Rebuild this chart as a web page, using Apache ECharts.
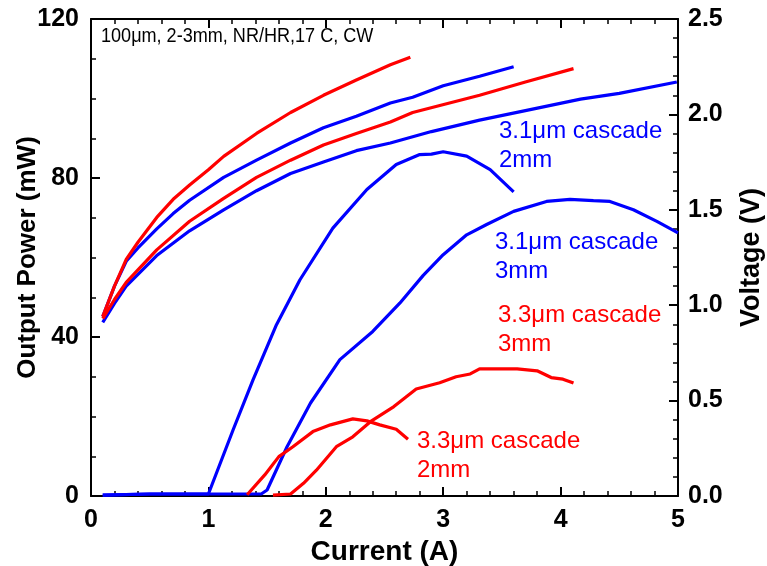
<!DOCTYPE html>
<html>
<head>
<meta charset="utf-8">
<script src="https://cdn.jsdelivr.net/npm/echarts@6/dist/echarts.min.js"></script>
<style>
  html, body { margin: 0; padding: 0; background: #fff; }
  #chart { width: 767px; height: 566px; }
</style>
</head>
<body>
<div id="chart"></div>
<script>
// output power (mW) vs current (A)
var iBlue2 = [0.1, 0.5, 1.0, 1.01, 1.21, 1.38, 1.58, 1.78, 2.06, 2.35, 2.6, 2.8, 2.9, 3.0, 3.2, 3.4, 3.6];
var pBlue2 = [0.2, 0.5, 0.5, 1.0, 16.6, 29.2, 43.1, 54.4, 67.4, 77.1, 83.4, 85.9, 86.0, 86.6, 85.5, 82.1, 76.5];

var iBlue3 = [0.1, 0.5, 1.45, 1.5, 1.67, 1.87, 2.12, 2.4, 2.63, 2.83, 3.0, 3.2, 3.37, 3.6, 3.88, 4.08, 4.28, 4.42, 4.62, 4.82, 5.0];
var pBlue3 = [0.2, 0.5, 0.5, 1.5, 12.4, 23.4, 34.3, 41.4, 48.5, 55.5, 60.7, 65.7, 68.3, 71.6, 74.1, 74.6, 74.3, 74.1, 72.0, 69.1, 66.2];

var iRed2 = [1.33, 1.48, 1.6, 1.72, 1.89, 2.04, 2.23, 2.35, 2.46, 2.6, 2.7];
var pRed2 = [0.3, 5.3, 9.9, 12.4, 16.2, 17.9, 19.4, 18.9, 17.9, 16.8, 14.3];

var iRed3 = [1.55, 1.7, 1.81, 1.92, 2.09, 2.23, 2.38, 2.58, 2.77, 2.97, 3.11, 3.23, 3.31, 3.63, 3.8, 3.92, 4.02, 4.11];
var pRed3 = [0.2, 0.5, 3.2, 6.5, 12.4, 14.9, 18.7, 22.5, 26.9, 28.5, 30.0, 30.7, 32.0, 32.0, 31.5, 29.8, 29.4, 28.4];

// voltage (V) vs current (A)
var iVBlue2 = [0.1, 0.2, 0.3, 0.4, 0.56, 0.7, 0.84, 1.13, 1.41, 1.7, 1.98, 2.26, 2.55, 2.74, 3.0, 3.31, 3.6];
var vBlue2 = [0.94, 1.10, 1.23, 1.30, 1.40, 1.48, 1.55, 1.67, 1.76, 1.85, 1.93, 1.99, 2.06, 2.09, 2.15, 2.20, 2.25];

var iVBlue3 = [0.1, 0.2, 0.3, 0.56, 0.84, 1.13, 1.41, 1.7, 1.98, 2.26, 2.55, 2.9, 3.31, 3.7, 4.17, 4.5, 4.99];
var vBlue3 = [0.91, 1.01, 1.10, 1.26, 1.39, 1.50, 1.60, 1.69, 1.75, 1.81, 1.85, 1.91, 1.97, 2.02, 2.08, 2.11, 2.17];

var iVRed2 = [0.1, 0.2, 0.3, 0.4, 0.56, 0.7, 0.84, 1.0, 1.13, 1.41, 1.7, 1.98, 2.26, 2.55, 2.72];
var vRed2 = [0.94, 1.10, 1.24, 1.33, 1.46, 1.555, 1.63, 1.71, 1.78, 1.90, 2.01, 2.10, 2.18, 2.26, 2.30];

var iVRed3 = [0.1, 0.2, 0.3, 0.56, 0.84, 1.13, 1.41, 1.7, 1.98, 2.26, 2.55, 2.74, 3.31, 3.7, 4.11];
var vRed3 = [0.93, 1.03, 1.12, 1.29, 1.44, 1.56, 1.67, 1.76, 1.84, 1.90, 1.96, 2.01, 2.10, 2.17, 2.24];

var xTicks = [0, 1, 2, 3, 4, 5];

var BLUE = "#0000ff";
var RED = "#ff0000";
var FONT = "'Liberation Sans', Arial, sans-serif";

function zip(xs, ys) {
  return xs.map(function (x, i) { return [x, ys[i]]; });
}

function line(name, xs, ys, color, yIdx) {
  return {
    name: name,
    type: "line",
    yAxisIndex: yIdx,
    data: zip(xs, ys),
    showSymbol: false,
    symbol: "none",
    lineStyle: { color: color, width: 3.2 },
    z: 3
  };
}

var chart = echarts.init(document.getElementById("chart"));

var axisBase = {
  axisLine: { show: true, onZero: false, lineStyle: { color: "#000", width: 2 } },
  axisTick: { show: true, inside: true, length: 9, lineStyle: { color: "#000", width: 2 } },
  minorTick: { show: true, length: 5, lineStyle: { color: "#000", width: 1.5 } },
  splitLine: { show: false }
};

var tickFont = { color: "#000", fontFamily: FONT, fontWeight: "bold", fontSize: 25 };

var option = {
  animation: false,
  backgroundColor: "#fff",
  grid: { left: 91, right: 89, top: 19, bottom: 70, containLabel: false, outerBoundsMode: "none" },
  xAxis: [
    Object.assign({}, axisBase, {
      type: "value",
      min: 0,
      max: 5,
      interval: 1,
      position: "bottom",
      minorTick: Object.assign({}, axisBase.minorTick, { splitNumber: 5 }),
      axisLabel: Object.assign({}, tickFont, {
        margin: 12,
        formatter: function (v) { return xTicks.indexOf(v) >= 0 ? String(v) : ""; }
      }),
      name: "Current (A)",
      nameLocation: "middle",
      nameGap: 40,
      nameTextStyle: { color: "#000", fontFamily: FONT, fontWeight: "bold", fontSize: 28 }
    }),
    Object.assign({}, axisBase, {
      type: "value",
      min: 0,
      max: 5,
      interval: 1,
      position: "top",
      minorTick: Object.assign({}, axisBase.minorTick, { splitNumber: 5 }),
      axisLabel: { show: false }
    })
  ],
  yAxis: [
    Object.assign({}, axisBase, {
      type: "value",
      min: 0,
      max: 120,
      interval: 40,
      position: "left",
      minorTick: Object.assign({}, axisBase.minorTick, { splitNumber: 4 }),
      axisLabel: Object.assign({}, tickFont, { margin: 12 }),
      name: "Output Power (mW)",
      nameLocation: "middle",
      nameRotate: 90,
      nameGap: 50,
      nameMoveOverlap: false,
      nameTextStyle: { color: "#000", fontFamily: FONT, fontWeight: "bold", fontSize: 26 }
    }),
    Object.assign({}, axisBase, {
      type: "value",
      min: 0,
      max: 2.5,
      interval: 0.5,
      position: "right",
      minorTick: Object.assign({}, axisBase.minorTick, { splitNumber: 5 }),
      axisLabel: Object.assign({}, tickFont, {
        margin: 10,
        formatter: function (v) { return v.toFixed(1); }
      }),
      name: "Voltage (V)",
      nameLocation: "middle",
      nameRotate: 90,
      nameGap: 60,
      nameTextStyle: { color: "#000", fontFamily: FONT, fontWeight: "bold", fontSize: 27 }
    })
  ],
  series: [
    line("V 3.1um 2mm", iVBlue2, vBlue2, BLUE, 1),
    line("V 3.1um 3mm", iVBlue3, vBlue3, BLUE, 1),
    line("V 3.3um 2mm", iVRed2, vRed2, RED, 1),
    line("V 3.3um 3mm", iVRed3, vRed3, RED, 1),
    line("3.1um 2mm", iBlue2, pBlue2, BLUE, 0),
    line("3.1um 3mm", iBlue3, pBlue3, BLUE, 0),
    line("3.3um 2mm", iRed2, pRed2, RED, 0),
    line("3.3um 3mm", iRed3, pRed3, RED, 0)
  ],
  graphic: [
    { type: "text", x: 101, y: 26, scaleX: 0.86, style: { text: "100\u03bcm, 2-3mm, NR/HR,17 C, CW", fill: "#000", font: "21px " + FONT } },
    { type: "text", x: 499, y: 117, style: { text: "3.1\u03bcm cascade\n2mm", fill: BLUE, font: "24px " + FONT, lineHeight: 29 } },
    { type: "text", x: 495, y: 228, style: { text: "3.1\u03bcm cascade\n3mm", fill: BLUE, font: "24px " + FONT, lineHeight: 29 } },
    { type: "text", x: 498, y: 301, style: { text: "3.3\u03bcm cascade\n3mm", fill: RED, font: "24px " + FONT, lineHeight: 29 } },
    { type: "text", x: 417, y: 427, style: { text: "3.3\u03bcm cascade\n2mm", fill: RED, font: "24px " + FONT, lineHeight: 29 } }
  ]
};

chart.setOption(option);
</script>
</body>
</html>
